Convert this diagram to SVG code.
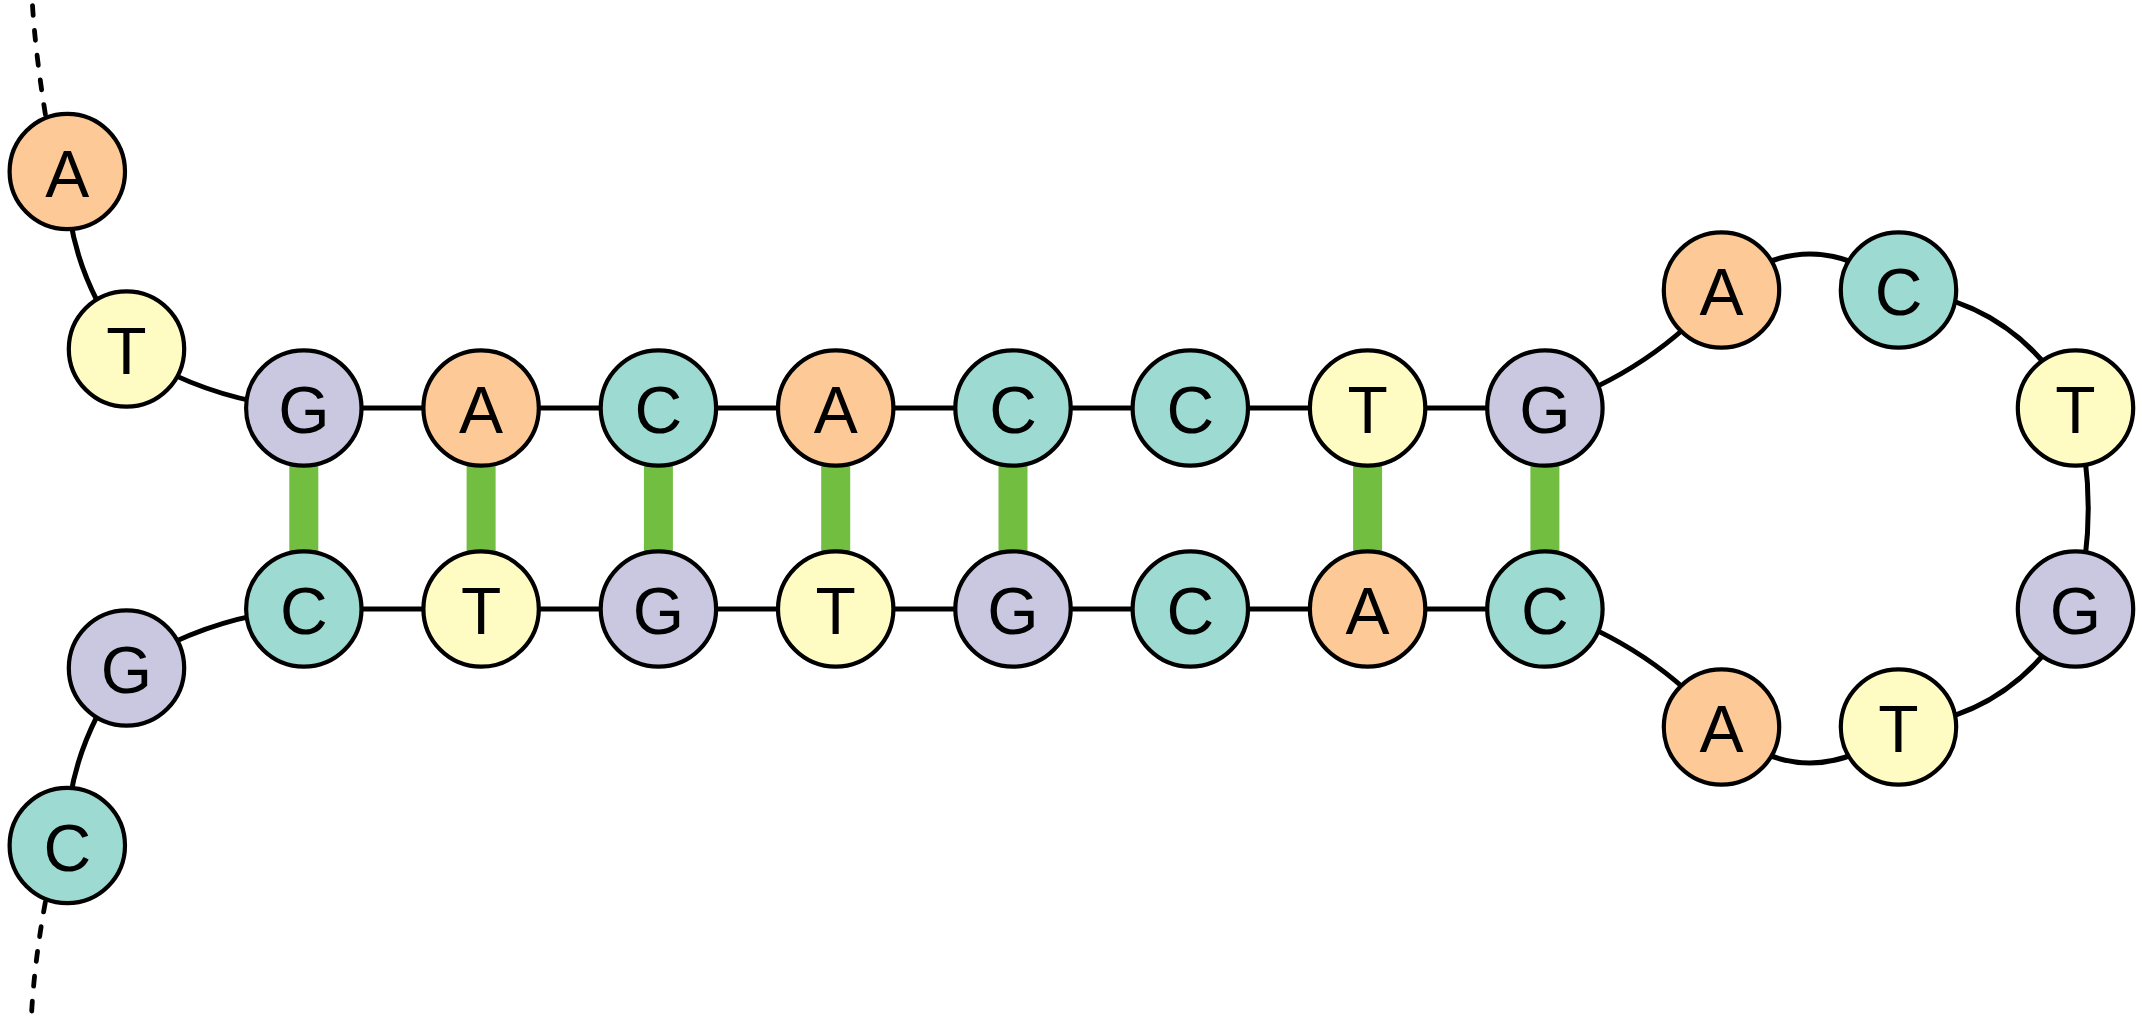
<svg xmlns="http://www.w3.org/2000/svg" width="2142" height="1017" viewBox="0 0 2142 1017">
<defs>
<style>
.bg{fill:#ffffff}
.node circle{stroke:#000;stroke-width:4.2}
.node text{font-family:"Liberation Sans",Arial,Helvetica,sans-serif;font-size:66px;fill:#000;text-anchor:middle}
.A circle{fill:#FDCA97}
.C circle{fill:#9DDAD1}
.T circle{fill:#FEFCC2}
.G circle{fill:#CAC8E1}
.bb{fill:none;stroke:#000;stroke-width:5}
.dash{fill:none;stroke:#000;stroke-width:4.8;stroke-linecap:round;stroke-dasharray:10 15}
.pair{fill:#71BE41}
</style>
</defs>
<rect class="bg" x="0" y="0" width="2142" height="1017"/>
<g id="connectors">
<path class="dash" d="M32.5,5.6 Q36,60 48,130"/>
<path class="dash" d="M31.7,1011 Q35,955 48,888"/>
<path class="bb" d="M67.3,171.5 Q64,262 126.5,349"/>
<path class="bb" d="M126.5,349 Q210,402 303.8,408"/>
<path class="bb" d="M67.3,845.5 Q64,755 126.5,668"/>
<path class="bb" d="M126.5,668 Q210,615 303.8,609"/>
<path class="bb" d="M303.8,408 H1544.9"/>
<path class="bb" d="M303.8,609 H1544.9"/>
<path class="bb" d="M1544.9,408 Q1655,370 1721.5,290"/>
<path class="bb" d="M1721.5,290 Q1810,218 1898.5,290"/>
<path class="bb" d="M1898.5,290 Q2015,300 2075.5,408"/>
<path class="bb" d="M2075.5,408 Q2101,508.5 2075.5,609"/>
<path class="bb" d="M2075.5,609 Q2015,717 1898.5,727"/>
<path class="bb" d="M1898.5,727 Q1810,799 1721.5,727"/>
<path class="bb" d="M1721.5,727 Q1655,647 1544.9,609"/>
<rect class="pair" x="289.3" y="408" width="29" height="201"/>
<rect class="pair" x="466.6" y="408" width="29" height="201"/>
<rect class="pair" x="643.9" y="408" width="29" height="201"/>
<rect class="pair" x="821.2" y="408" width="29" height="201"/>
<rect class="pair" x="998.5" y="408" width="29" height="201"/>
<rect class="pair" x="1353.1" y="408" width="29" height="201"/>
<rect class="pair" x="1530.4" y="408" width="29" height="201"/>
</g>
<g id="n1" class="node A"><circle cx="67.3" cy="171.5" r="57.7"/><text x="67.3" y="196.5">A</text></g>
<g id="n2" class="node T"><circle cx="126.5" cy="349" r="57.7"/><text x="126.5" y="374">T</text></g>
<g id="n3" class="node G"><circle cx="303.8" cy="408" r="57.7"/><text x="303.8" y="433">G</text></g>
<g id="n4" class="node A"><circle cx="481.1" cy="408" r="57.7"/><text x="481.1" y="433">A</text></g>
<g id="n5" class="node C"><circle cx="658.4" cy="408" r="57.7"/><text x="658.4" y="433">C</text></g>
<g id="n6" class="node A"><circle cx="835.7" cy="408" r="57.7"/><text x="835.7" y="433">A</text></g>
<g id="n7" class="node C"><circle cx="1013" cy="408" r="57.7"/><text x="1013" y="433">C</text></g>
<g id="n8" class="node C"><circle cx="1190.3" cy="408" r="57.7"/><text x="1190.3" y="433">C</text></g>
<g id="n9" class="node T"><circle cx="1367.6" cy="408" r="57.7"/><text x="1367.6" y="433">T</text></g>
<g id="n10" class="node G"><circle cx="1544.9" cy="408" r="57.7"/><text x="1544.9" y="433">G</text></g>
<g id="n11" class="node A"><circle cx="1721.5" cy="290" r="57.7"/><text x="1721.5" y="315">A</text></g>
<g id="n12" class="node C"><circle cx="1898.5" cy="290" r="57.7"/><text x="1898.5" y="315">C</text></g>
<g id="n13" class="node T"><circle cx="2075.5" cy="408" r="57.7"/><text x="2075.5" y="433">T</text></g>
<g id="n14" class="node G"><circle cx="2075.5" cy="609" r="57.7"/><text x="2075.5" y="634">G</text></g>
<g id="n15" class="node T"><circle cx="1898.5" cy="727" r="57.7"/><text x="1898.5" y="752">T</text></g>
<g id="n16" class="node A"><circle cx="1721.5" cy="727" r="57.7"/><text x="1721.5" y="752">A</text></g>
<g id="n17" class="node C"><circle cx="1544.9" cy="609" r="57.7"/><text x="1544.9" y="634">C</text></g>
<g id="n18" class="node A"><circle cx="1367.6" cy="609" r="57.7"/><text x="1367.6" y="634">A</text></g>
<g id="n19" class="node C"><circle cx="1190.3" cy="609" r="57.7"/><text x="1190.3" y="634">C</text></g>
<g id="n20" class="node G"><circle cx="1013" cy="609" r="57.7"/><text x="1013" y="634">G</text></g>
<g id="n21" class="node T"><circle cx="835.7" cy="609" r="57.7"/><text x="835.7" y="634">T</text></g>
<g id="n22" class="node G"><circle cx="658.4" cy="609" r="57.7"/><text x="658.4" y="634">G</text></g>
<g id="n23" class="node T"><circle cx="481.1" cy="609" r="57.7"/><text x="481.1" y="634">T</text></g>
<g id="n24" class="node C"><circle cx="303.8" cy="609" r="57.7"/><text x="303.8" y="634">C</text></g>
<g id="n25" class="node G"><circle cx="126.5" cy="668" r="57.7"/><text x="126.5" y="693">G</text></g>
<g id="n26" class="node C"><circle cx="67.3" cy="845.5" r="57.7"/><text x="67.3" y="870.5">C</text></g>
</svg>
